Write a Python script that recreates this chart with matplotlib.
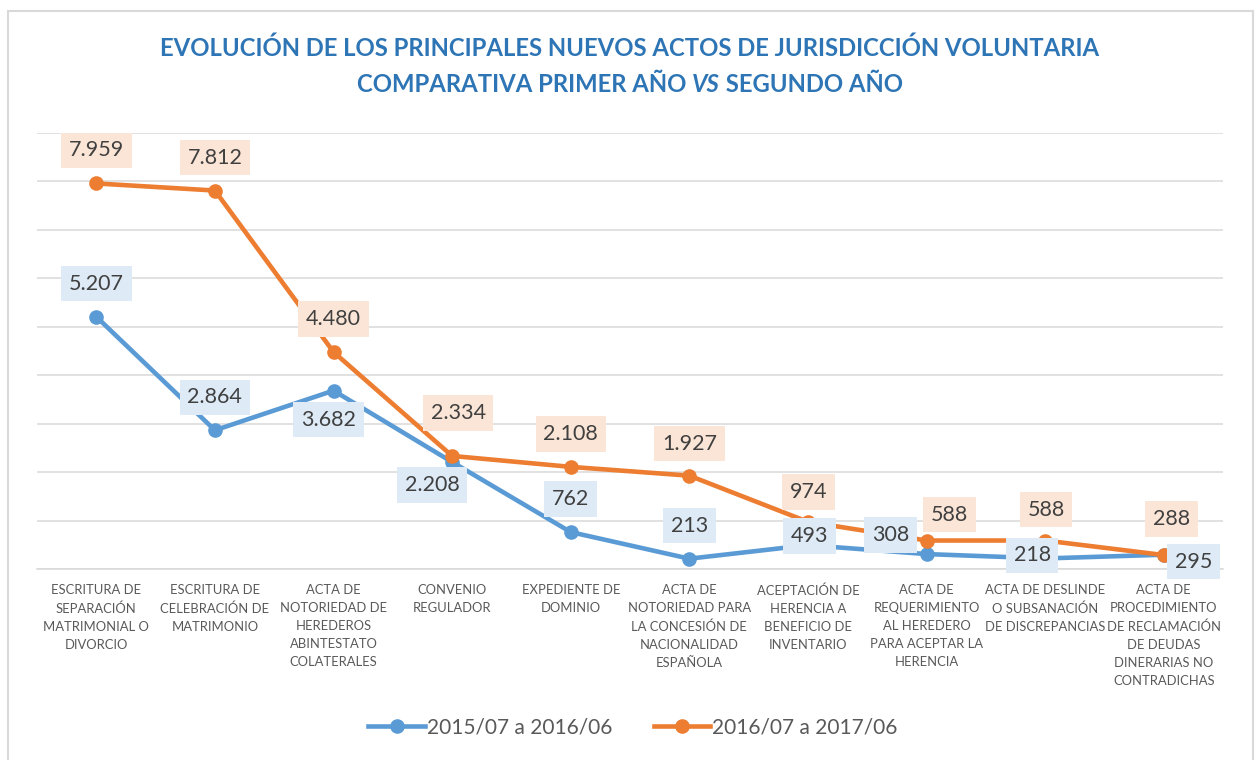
import matplotlib
matplotlib.use("Agg")
import matplotlib.pyplot as plt
from matplotlib.lines import Line2D
from matplotlib.patches import Rectangle

plt.rcParams['font.family'] = ['Lato', 'DejaVu Sans']

categories = [
    "ESCRITURA DE\nSEPARACIÓN\nMATRIMONIAL O\nDIVORCIO",
    "ESCRITURA DE\nCELEBRACIÓN DE\nMATRIMONIO",
    "ACTA DE\nNOTORIEDAD DE\nHEREDEROS\nABINTESTATO\nCOLATERALES",
    "CONVENIO\nREGULADOR",
    "EXPEDIENTE DE\nDOMINIO",
    "ACTA DE\nNOTORIEDAD PARA\nLA CONCESIÓN DE\nNACIONALIDAD\nESPAÑOLA",
    "ACEPTACIÓN DE\nHERENCIA A\nBENEFICIO DE\nINVENTARIO",
    "ACTA DE\nREQUERIMIENTO\nAL HEREDERO\nPARA ACEPTAR LA\nHERENCIA",
    "ACTA DE DESLINDE\nO SUBSANACIÓN\nDE DISCREPANCIAS",
    "ACTA DE\nPROCEDIMIENTO\nDE RECLAMACIÓN\nDE DEUDAS\nDINERARIAS NO\nCONTRADICHAS",
]
series_names = ["2015/07 a 2016/06", "2016/07 a 2017/06"]
values_1 = [5207, 2864, 3682, 2208, 762, 213, 493, 308, 218, 295]
values_2 = [7959, 7812, 4480, 2334, 2108, 1927, 974, 588, 588, 288]

# label offsets in pixels (dx, dy up)
offs_1 = [(0, 33), (0, 33), (-5, -29), (-20, -23), (0, 33), (0, 33), (2, 9), (-36, 19), (-13, 3), (30, -7)]
offs_2 = [(0, 33), (0, 33), (0, 33), (6, 43), (0, 33), (0, 32), (1, 30), (23, 26), (1, 31), (8, 36)]

def fmt(v):
    return f"{v:,}".replace(",", ".")

W, H = 1255, 760
fig = plt.figure(figsize=(W / 100, H / 100), dpi=100)
fig.patch.set_facecolor("white")

# outer border
fig.add_artist(Rectangle((8 / W, -0.01), (1253 - 8) / W, (H - 11) / H + 0.01,
                         transform=fig.transFigure, fill=False,
                         edgecolor="#D9D9D9", linewidth=1.5))

ax = fig.add_axes([37 / W, 1 - 569 / H, (1223 - 37) / W, (569 - 133) / H])
ax.set_xlim(-0.5, len(categories) - 0.5)
ax.set_ylim(0, 9000)
ax.set_yticks(range(0, 9001, 1000))
ax.set_yticklabels([])
ax.tick_params(axis="y", length=0)
ax.grid(axis="y", color="#D9D9D9", linewidth=1.1)
ax.set_axisbelow(True)
for s in ["left", "right", "top"]:
    ax.spines[s].set_visible(False)
ax.spines["bottom"].set_color("#D9D9D9")
ax.spines["bottom"].set_linewidth(1.1)

x = list(range(len(categories)))
ax.set_xticks(x)
ax.set_xticklabels(categories, fontsize=9.4, color="#595959", linespacing=1.6)
ax.tick_params(axis="x", length=0, pad=11)

blue = "#5B9BD5"
orange = "#ED7D31"
ax.plot(x, values_1, color=blue, lw=3.3, marker="o", ms=9.5, zorder=3,
        solid_capstyle="round")
ax.plot(x, values_2, color=orange, lw=3.3, marker="o", ms=9.5, zorder=4,
        solid_capstyle="round")

for xi, v, (dx, dy) in zip(x, values_1, offs_1):
    ax.annotate(fmt(v), (xi, v), xytext=(dx, dy), textcoords="offset pixels",
                ha="center", va="center", fontsize=15.5, color="#404040", zorder=6,
                bbox=dict(boxstyle="square,pad=0.36", fc="#DEEBF7", ec="none"))
for xi, v, (dx, dy) in zip(x, values_2, offs_2):
    ax.annotate(fmt(v), (xi, v), xytext=(dx, dy), textcoords="offset pixels",
                ha="center", va="center", fontsize=15.5, color="#404040", zorder=6,
                bbox=dict(boxstyle="square,pad=0.36", fc="#FBE5D6", ec="none"))

# Title
tcol = "#2E75B6"
tfs = 17.2
fig.text(630 / W, 1 - 48 / H, "EVOLUCIÓN DE LOS PRINCIPALES NUEVOS ACTOS DE JURISDICCIÓN VOLUNTARIA",
         ha="center", va="center", fontsize=tfs, fontweight="bold", color=tcol)
r = fig.canvas.get_renderer()
parts = [("COMPARATIVA PRIMER AÑO ", "normal"), ("VS", "italic"), (" SEGUNDO AÑO", "normal")]
tmp = []
for s, st in parts:
    t = fig.text(0, 0, s, fontsize=tfs, fontweight="bold", fontstyle=st)
    tmp.append(t.get_window_extent(renderer=r).width)
    t.remove()
total = sum(tmp)
xs = 630 - total / 2
for (s, st), w in zip(parts, tmp):
    fig.text(xs / W, 1 - 84 / H, s, ha="left", va="center", fontsize=tfs,
             fontweight="bold", fontstyle=st, color=tcol)
    xs += w

handles = [Line2D([], [], color=blue, lw=3.3, marker="o", ms=9.5),
           Line2D([], [], color=orange, lw=3.3, marker="o", ms=9.5)]
fig.legend(handles, series_names, loc="center", bbox_to_anchor=(633 / W, 1 - 727 / H),
           ncol=2, frameon=False, fontsize=15, handlelength=2.7, handletextpad=0.1,
           columnspacing=2.0, labelcolor="#595959")

fig.savefig("out.png", dpi=100, facecolor="white")
